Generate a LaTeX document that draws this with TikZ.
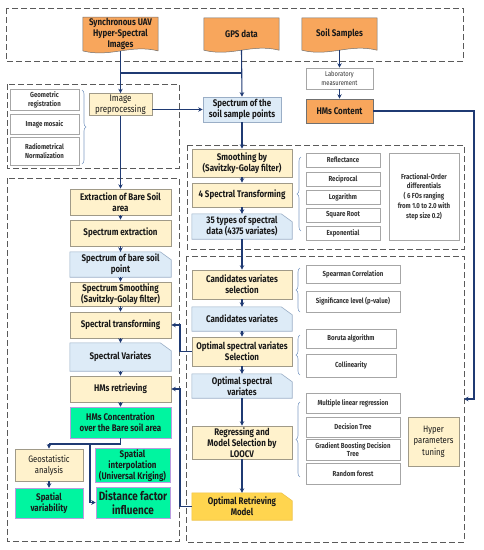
\documentclass[tikz,border=0pt]{standalone}
\usepackage{fontspec}
\setmainfont{Fira Sans}[FakeStretch=0.83]
\usetikzlibrary{arrows.meta,decorations.pathreplacing}
\definecolor{navy}{HTML}{1F3A73}
\definecolor{txt}{HTML}{1A1A1A}
\definecolor{yfill}{HTML}{FFF2CC}
\definecolor{ydraw}{HTML}{A09A88}
\definecolor{bfill}{HTML}{DDEBF7}
\definecolor{bdraw}{HTML}{9AAEC6}
\definecolor{ofill}{HTML}{F8A65C}
\definecolor{odraw}{HTML}{707070}
\definecolor{gfill}{HTML}{00F5A0}
\definecolor{gdraw}{HTML}{B89BE0}
\definecolor{aufill}{HTML}{FFD54F}
\definecolor{audraw}{HTML}{EEC34A}
\definecolor{grdraw}{HTML}{A6A6A6}
\definecolor{grtxt}{HTML}{333333}
\definecolor{dashc}{HTML}{5A5A5A}
\definecolor{bracec}{HTML}{7F9CC4}
\pgfdeclarelayer{bg}
\pgfsetlayers{bg,main}
\tikzset{
  grp/.style={draw=dashc, line width=0.9pt, dash pattern=on 6pt off 3pt},
  base/.style={rectangle, inner sep=1pt, align=center, text=txt,
    font=\fontsize{9.6}{11}\selectfont\bfseries},
  ybox/.style={base, fill=yfill, draw=ydraw, line width=0.6pt},
  bbox/.style={base},
  chamb/.style={fill=bfill, draw=bdraw, line width=0.6pt},
  chama/.style={fill=aufill, draw=audraw, line width=0.6pt},
  obox/.style={base, fill=ofill, draw=odraw, line width=0.6pt},
  gbox/.style={base, fill=gfill, draw=gdraw, line width=0.5pt},
  wbox/.style={base, fill=white, draw=grdraw, line width=0.6pt, text=grtxt,
    font=\fontsize{7.3}{8.8}\selectfont\bfseries},
  docnode/.style={base, draw=none, fill=none, minimum width=75, minimum height=32},
  docshape/.style={fill=ofill, draw=odraw, line width=0.5pt},
  conn/.style={draw=navy, line width=1.1pt},
  arr/.style={conn, -{Stealth[length=4.5pt,width=4.5pt]}},
  brc/.style={draw=bracec, line width=0.6pt, decorate,
    decoration={brace, amplitude=4pt}},
}
\begin{document}
\begin{tikzpicture}[x=1pt,y=-1pt]
\useasboundingbox (0,0) rectangle (483,550);

% dashed groups
\draw[grp] (6,8) rectangle (463,61);
\draw[grp] (7,84) rectangle (179,168);
\draw[grp] (187,145) rectangle (464,249);
\draw[grp] (7,178) rectangle (179,541);
\draw[grp] (186,256) rectangle (464,542);

% top inputs
\node[docnode] (uav) at (120.5,34) {Synchronous UAV\\Hyper-Spectral\\Images};
\node[docnode] (gps) at (241.5,34) {GPS data};
\node[docnode] (soil) at (339.5,34) {Soil Samples};

\node[wbox, font=\fontsize{7}{9}\selectfont, minimum width=67, minimum height=21] (lab) at (339.5,78.5) {Laboratory\\measurement};
\node[obox, minimum width=67, minimum height=24] (hmc) at (339.5,111) {HMs Content};
\node[base, fill=bfill, draw=bdraw, line width=0.6pt, minimum width=78, minimum height=25] (spec) at (242,109.5) {Spectrum of the\\soil sample points};

% image preprocessing group
\node[wbox, minimum width=69, minimum height=21] (geo) at (44.5,99.5) {Geometric\\registration};
\node[wbox, minimum width=69, minimum height=20] (mos) at (44.5,124) {Image mosaic};
\node[wbox, minimum width=69, minimum height=28] (rad) at (44.5,151) {Radiometrical\\Normalization};
\node[ybox, font=\fontsize{9.6}{11}\selectfont, minimum width=63, minimum height=22] (prep) at (120.5,104.5) {Image\\preprocessing};
\draw[brc] (82,90) -- (82,164);

% spectral transform group
\node[ybox, minimum width=100, minimum height=28] (smo) at (242,163) {Smoothing by\\(Savitzky-Golay filter)};
\node[ybox, minimum width=100, minimum height=24] (st4) at (242,195) {4 Spectral Transforming};
\node[bbox, minimum width=100, minimum height=25] (t35) at (242,226.5) {35 types of spectral\\data (4375 variates)};
\node[wbox, minimum width=74, minimum height=14] (refl) at (343,160) {Reflectance};
\node[wbox, minimum width=74, minimum height=14] (reci) at (343,179) {Reciprocal};
\node[wbox, minimum width=74, minimum height=14] (loga) at (343,197) {Logarithm};
\node[wbox, minimum width=74, minimum height=14] (sqrt) at (343,215) {Square Root};
\node[wbox, minimum width=74, minimum height=14] (expo) at (343,233.5) {Exponential};
\node[wbox, font=\fontsize{7.3}{9.8}\selectfont\bfseries, minimum width=70, minimum height=87] (frac) at (424,196.5) {Fractional-Order\\differentials\\( 6 FOs ranging\\from 1.0 to 2.0 with\\step size 0.2)};
\draw[brc] (301,231) -- (301,157);

% left column
\node[ybox, minimum width=101, minimum height=26] (ext) at (120.5,202) {Extraction of Bare Soil\\area};
\node[ybox, minimum width=101, minimum height=26] (sex) at (120.5,233) {Spectrum extraction};
\node[bbox, minimum width=101, minimum height=25] (sbp) at (120.5,264.5) {Spectrum of bare soil\\point};
\node[ybox, minimum width=101, minimum height=24] (ssm) at (120.5,294) {Spectrum Smoothing\\(Savitzky-Golay filter)};
\node[ybox, minimum width=101, minimum height=26] (stf) at (120.5,325) {Spectral transforming};
\node[bbox, minimum width=101, minimum height=28] (svr) at (120.5,357) {Spectral Variates};
\node[ybox, minimum width=101, minimum height=26] (hmr) at (120.5,389) {HMs retrieving};
\node[gbox, minimum width=101, minimum height=31] (hmcc) at (120.5,422.5) {HMs Concentration\\over the Bare soil area};
\node[ybox, font=\fontsize{9.3}{11}\selectfont, minimum width=68, minimum height=32] (gsa) at (49,465) {Geostatistic\\analysis};
\node[gbox, minimum width=68, minimum height=30] (spv) at (49,503) {Spatial\\variability};
\node[gbox, minimum width=75, minimum height=33] (spi) at (132.5,465.5) {Spatial\\interpolation\\(Universal Kriging)};
\node[gbox, font=\fontsize{12}{13.5}\selectfont\bfseries, minimum width=74, minimum height=31] (dfi) at (133,502.5) {Distance factor\\influence};

% right modelling column
\node[ybox, minimum width=100, minimum height=29] (cvs) at (242,284.5) {Candidates variates\\selection};
\node[bbox, minimum width=100, minimum height=24] (cv) at (242,319) {Candidates variates};
\node[ybox, minimum width=100, minimum height=29] (osvs) at (242,351.5) {Optimal spectral variates\\Selection};
\node[bbox, minimum width=100, minimum height=24] (osv) at (242,386) {Optimal spectral\\variates};
\node[ybox, minimum width=100, minimum height=33] (reg) at (242,442.5) {Regressing and\\Model Selection by\\LOOCV};
\node[bbox, minimum width=100, minimum height=27] (orm) at (242,506.5) {Optimal Retrieving\\Model};

\node[wbox, minimum width=94, minimum height=18] (spe) at (353,274) {Spearman Correlation};
\node[wbox, minimum width=94, minimum height=21] (sig) at (353,301.5) {Significance level (p-value)};
\draw[brc] (300,312) -- (300,268);
\node[wbox, minimum width=90, minimum height=19] (bor) at (351,338.5) {Boruta algorithm};
\node[wbox, minimum width=90, minimum height=23] (col) at (351,365.5) {Collinearity};
\draw[brc] (300,375) -- (300,335);
\node[wbox, minimum width=94, minimum height=20] (mlr) at (353,403) {Multiple linear regression};
\node[wbox, minimum width=94, minimum height=20] (dtr) at (353,427) {Decision Tree};
\node[wbox, minimum width=94, minimum height=21] (gbd) at (353,449.5) {Gradient Boosting Decision\\Tree};
\node[wbox, minimum width=94, minimum height=21] (rfo) at (353,473.5) {Random forest};
\draw[brc] (300,477) -- (300,402);
\node[ybox, font=\fontsize{9.3}{11.5}\selectfont, minimum width=51, minimum height=49] (hyp) at (433.5,441.5) {Hyper\\parameters\\tuning};

% background shapes: document and chamfered boxes
\begin{pgfonlayer}{bg}
\foreach \n in {uav,gps,soil}{
  \path[docshape] (\n.north west) -- (\n.north east) -- (\n.south east)
    .. controls +(-28,-7) and +(28,7) .. (\n.south west) -- cycle;
}
\foreach \n in {t35,sbp,svr,cv,osv}{
  \path[chamb] (\n.north west) -- ([xshift=-11pt]\n.north east) -- ([yshift=-8pt]\n.north east)
    -- (\n.south east) -- (\n.south west) -- cycle;
}
\path[chama] (orm.north west) -- ([xshift=-11pt]orm.north east) -- ([yshift=-8pt]orm.north east)
    -- (orm.south east) -- (orm.south west) -- cycle;
\end{pgfonlayer}

% connectors
\coordinate (j1) at (120.5,73);
\coordinate (j2) at (241.5,73);
\coordinate (rin) at (464,399);
\draw[conn] (uav.south) -- (j1) -- (j2);
\draw[arr] (j1) -- (prep.north);
\draw[arr] (gps.south) -- (spec.north);
\draw[arr] (soil.south) -- (lab.north);
\draw[arr] (lab.south) -- (hmc.north);
\draw[arr] (hmc.east) -- (474,111) -- (474,399) -- (rin);
\draw[arr] (prep.east |- spec.west) -- (spec.west);
\draw[arr] (prep.south) -- (ext.north);
\draw[arr] (spec.south) -- (smo.north);
\draw[arr] (smo.south) -- (st4.north);
\draw[arr] (st4.south) -- (t35.north);
\draw[arr] (t35.south) -- (cvs.north);
\draw[arr] (ext.south) -- (sex.north);
\draw[arr] (sex.south) -- (sbp.north);
\draw[arr] (sbp.south) -- (ssm.north);
\draw[arr] (ssm.south) -- (stf.north);
\draw[arr] (stf.south) -- (svr.north);
\draw[arr] (svr.south) -- (hmr.north);
\draw[arr] (hmr.south) -- (hmcc.north);
\draw[arr] (cvs.south) -- (cv.north);
\draw[arr] (cv.south) -- (osvs.north);
\draw[arr] (osvs.south) -- (osv.north);
\draw[arr] (osv.south) -- (reg.north);
\draw[arr] (reg.south) -- (orm.north);
\draw[arr] (osvs.west) -- (180,351.5) -- (180,325) -- (stf.east);
\draw[arr] (orm.west) -- (180,506.5) -- (180,389) -- (hmr.east);
\coordinate (j3) at (120.5,444);
\coordinate (j4) at (90,444);
\draw[conn] (hmcc.south) -- (j3) -- (49,444);
\draw[arr] (49,444) -- (gsa.north);
\draw[arr] (j4) -- (90,502.5) -- (dfi.west);
\draw[arr] (gsa.south) -- (spv.north);
\end{tikzpicture}
\end{document}
